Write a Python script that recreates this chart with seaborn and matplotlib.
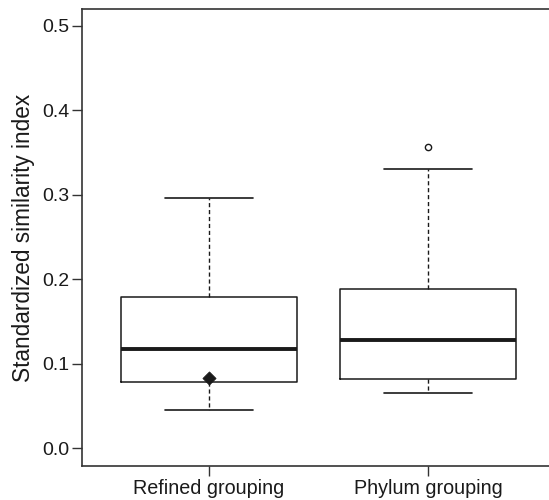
import matplotlib
matplotlib.use("Agg")
import matplotlib.pyplot as plt
import seaborn as sns
import pandas as pd

# Summary statistics (per group)
groups = ["Refined grouping", "Phylum grouping"]
whisker_low = [0.045, 0.065]
q1 = [0.078, 0.082]
median = [0.117, 0.128]
q3 = [0.179, 0.188]
whisker_high = [0.296, 0.331]
outlier_group = ["Phylum grouping"]
outlier_value = [0.357]
diamond_group = ["Refined grouping"]
diamond_value = [0.083]
yticks = [0.0, 0.1, 0.2, 0.3, 0.4, 0.5]

# Build samples reproducing the quartiles exactly (linear interpolation)
rows = []
for g, lo, a, m, b, hi in zip(groups, whisker_low, q1, median, q3, whisker_high):
    extra = [v for og, v in zip(outlier_group, outlier_value) if og == g]
    if extra:
        vals = [lo, a, a, m, m, b, b, hi] + extra  # idx2=q1, idx4=median, idx6=q3
    else:
        vals = [lo, a, m, b, hi]
    for v in vals:
        rows.append({"group": g, "value": v})
df = pd.DataFrame(rows)

sns.set_style("white")
plt.rcParams["font.family"] = ["Liberation Sans", "DejaVu Sans"]

fig = plt.figure(figsize=(5.49, 5.00), dpi=100)
ax = fig.add_axes([82 / 549, 1 - 466 / 500, 1 - 82 / 549 + 0.01, (466 - 9) / 500])

ink = "#1a1a1a"
sns.boxplot(
    data=df, x="group", y="value", order=groups, ax=ax,
    width=0.8, whis=1.5, fill=False, color=ink, linewidth=1.1,
    medianprops=dict(color=ink, linewidth=2.8),
    whiskerprops=dict(color=ink, linestyle=(0, (3, 2)), linewidth=1.0),
    capprops=dict(color=ink, linewidth=1.2),
    boxprops=dict(color=ink, linewidth=1.1),
    flierprops=dict(marker="o", markersize=4.5, markerfacecolor="white",
                    markeredgecolor=ink, markeredgewidth=1.0),
)

dfd = pd.DataFrame({"group": diamond_group, "value": diamond_value})
sns.scatterplot(data=dfd, x="group", y="value", ax=ax, marker="D", s=45,
                color=ink, edgecolor=ink, zorder=5, legend=False)

ax.set_xlim(-0.58, 1.578)
ax.set_ylim(-0.0213, 0.520)
ax.set_yticks(yticks)
ax.set_yticklabels([f"{t:.1f}" for t in yticks])
ax.set_xlabel("")
ax.set_ylabel("Standardized similarity index", fontsize=16.3, labelpad=5, color=ink)

for side in ["left", "bottom", "top"]:
    ax.spines[side].set_visible(True)
    ax.spines[side].set_color("#333333")
    ax.spines[side].set_linewidth(1.2)
ax.spines["right"].set_visible(False)

ax.tick_params(axis="both", which="both", direction="out", length=7, width=1.0,
               color="#333333", labelsize=14, labelcolor=ink, left=True, bottom=True)
ax.tick_params(axis="x", labelsize=14.2, pad=2)
ax.tick_params(axis="y", pad=2)

fig.savefig("out.png", dpi=100)
